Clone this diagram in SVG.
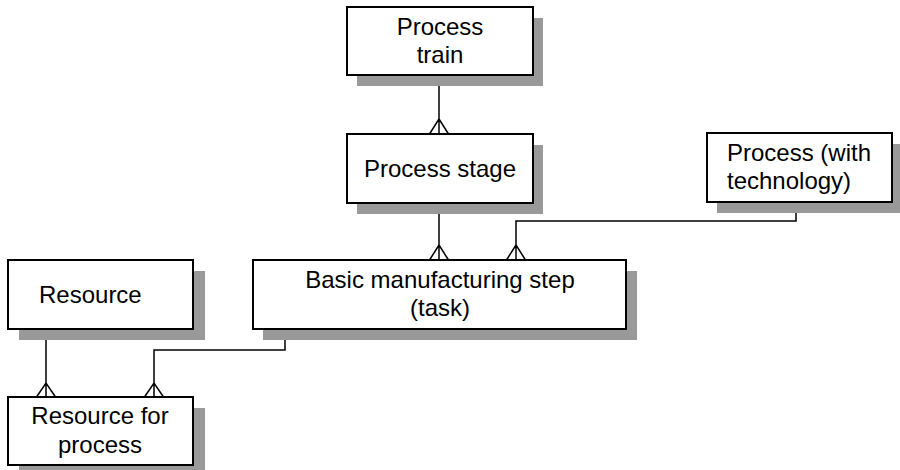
<svg xmlns="http://www.w3.org/2000/svg" width="900" height="470" viewBox="0 0 900 470">
<style>
.shadow{fill:#999999;stroke:none}
.box{fill:#ffffff;stroke:#000000;stroke-width:2}
.lbl{font-family:"Liberation Sans",Arial,sans-serif;font-size:24px;fill:#000000}
.c{text-anchor:middle}
.conn{fill:none;stroke:#000000;stroke-width:1.5}
</style>
<rect width="900" height="470" fill="#ffffff"/>
<g id="node-process-train">
<rect class="shadow" x="357" y="18" width="186" height="68"/>
<rect class="box" x="347" y="7" width="186" height="68"/>
<text class="lbl c" x="440" y="35">Process</text>
<text class="lbl c" x="440" y="63">train</text>
</g>
<g id="node-process-stage">
<rect class="shadow" x="357" y="145" width="186" height="69"/>
<rect class="box" x="347" y="134" width="186" height="69"/>
<text class="lbl c" x="440" y="177">Process stage</text>
</g>
<g id="node-process-tech">
<rect class="shadow" x="717" y="144" width="186" height="69"/>
<rect class="box" x="707" y="133" width="185" height="69"/>
<text class="lbl" x="727" y="161">Process (with</text>
<text class="lbl" x="727" y="189">technology)</text>
</g>
<g id="node-basic-step">
<rect class="shadow" x="263" y="271" width="374" height="69"/>
<rect class="box" x="253" y="260" width="373" height="69"/>
<text class="lbl c" x="440" y="288">Basic manufacturing step</text>
<text class="lbl c" x="440" y="316">(task)</text>
</g>
<g id="node-resource">
<rect class="shadow" x="19" y="271" width="186" height="69"/>
<rect class="box" x="8" y="260" width="185" height="69"/>
<text class="lbl" x="39" y="303">Resource</text>
</g>
<g id="node-resource-for-process">
<rect class="shadow" x="19" y="408" width="186" height="69"/>
<rect class="box" x="8" y="397" width="185" height="68"/>
<text class="lbl c" x="100" y="424">Resource for</text>
<text class="lbl c" x="100" y="453">process</text>
</g>
<g id="connectors">
<path class="conn" d="M439,86 V134 M429.5,134 L439,119 L448.5,134"/>
<path class="conn" d="M439,214 V260 M429.5,260 L439,245 L448.5,260"/>
<path class="conn" d="M796,213 V221 H516 V260 M506.5,260 L516,245 L525.5,260"/>
<path class="conn" d="M46,340 V397 M36.5,397 L46,383 L55.5,397"/>
<path class="conn" d="M285,340 V350 H154 V397 M144.5,397 L154,383 L163.5,397"/>
</g>
</svg>
